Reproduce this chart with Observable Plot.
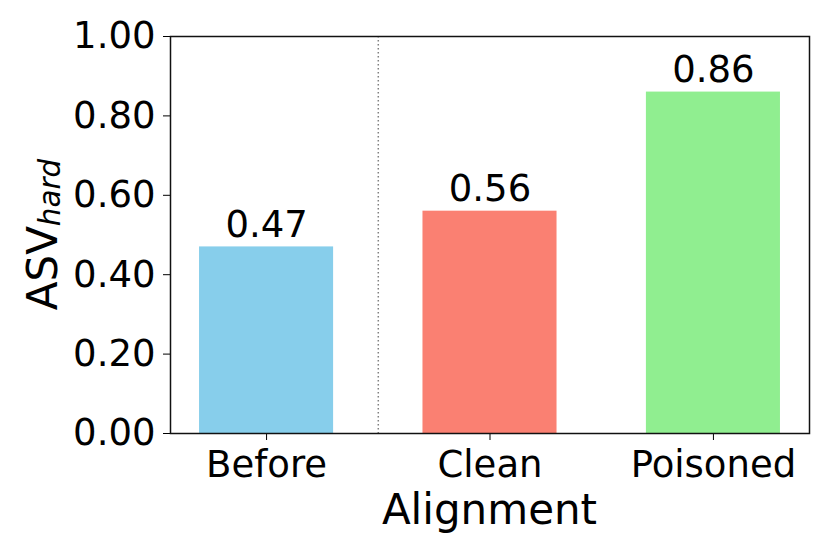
<!DOCTYPE html>
<html>
<head>
<meta charset="utf-8">
<script src="https://cdn.jsdelivr.net/npm/d3@7"></script>
<script src="https://cdn.jsdelivr.net/npm/@observablehq/plot@0.6"></script>
<style>
  html, body { margin: 0; padding: 0; background: white; }
  #chart svg { display: block; }
</style>
</head>
<body>
<div id="chart"></div>
<script>
const categories = ["Before", "Clean", "Poisoned"];
const values = [0.47, 0.56, 0.86];
const colors = ["#87CEEB", "#FA8072", "#90EE90"];
const yTicks = [0, 0.2, 0.4, 0.6, 0.8, 1.0];
const dividerAt = [0.5];
const barWidth = 0.6;
const xLabel = "Alignment";
const yLabelMain = "ASV";
const yLabelSub = "hard";

const data = categories.map((c, i) => ({ i, category: c, value: values[i], color: colors[i] }));

const W = 830, H = 554;
const mL = 170, mR = 21, mT = 36, mB = 121;

const plot = Plot.plot({
  width: W,
  height: H,
  marginLeft: mL,
  marginRight: mR,
  marginTop: mT,
  marginBottom: mB,
  style: { fontFamily: "DejaVu Sans", fontSize: "37px", color: "black", background: "white", overflow: "visible" },
  x: { domain: [-0.43, 2.43] },
  y: { domain: [0, 1] },
  marks: [
    Plot.rectY(data, {
      x1: d => d.i - barWidth / 2,
      x2: d => d.i + barWidth / 2,
      y1: 0,
      y2: "value",
      fill: "color"
    }),
    Plot.ruleX(dividerAt, { stroke: "#808080", strokeWidth: 1.5, strokeDasharray: "1.5,2.5" }),
    Plot.text(data, {
      x: "i",
      y: "value",
      text: d => d.value.toFixed(2),
      lineAnchor: "bottom",
      dy: -10,
      fontSize: 37,
      fill: "black"
    }),
    Plot.axisY({
      ticks: yTicks,
      tickFormat: d => d.toFixed(2),
      tickSize: 7,
      tickPadding: 8,
      label: null,
      fontSize: 37
    }),
    Plot.axisX({
      ticks: [0, 1, 2],
      tickFormat: i => categories[i],
      tickSize: 7,
      tickPadding: 10,
      label: null,
      fontSize: 37
    }),
    Plot.frame({ stroke: "#111", strokeWidth: 1.5 })
  ]
});

document.getElementById("chart").appendChild(plot);

const svg = d3.select(plot);
// x-axis title
svg.append("text")
  .attr("x", (mL + (W - mR)) / 2)
  .attr("y", 524)
  .attr("text-anchor", "middle")
  .attr("font-family", "DejaVu Sans")
  .attr("font-size", 42)
  .attr("fill", "black")
  .text(xLabel);

// y-axis title with italic subscript
const yt = svg.append("text")
  .attr("transform", `translate(57, ${(mT + (H - mB)) / 2}) rotate(-90)`)
  .attr("text-anchor", "middle")
  .attr("font-family", "DejaVu Sans")
  .attr("font-size", 42)
  .attr("fill", "black");
yt.append("tspan").text(yLabelMain);
yt.append("tspan")
  .attr("font-size", 29.4)
  .attr("font-style", "italic")
  .attr("dy", 3)
  .text(yLabelSub);
</script>
</body>
</html>
